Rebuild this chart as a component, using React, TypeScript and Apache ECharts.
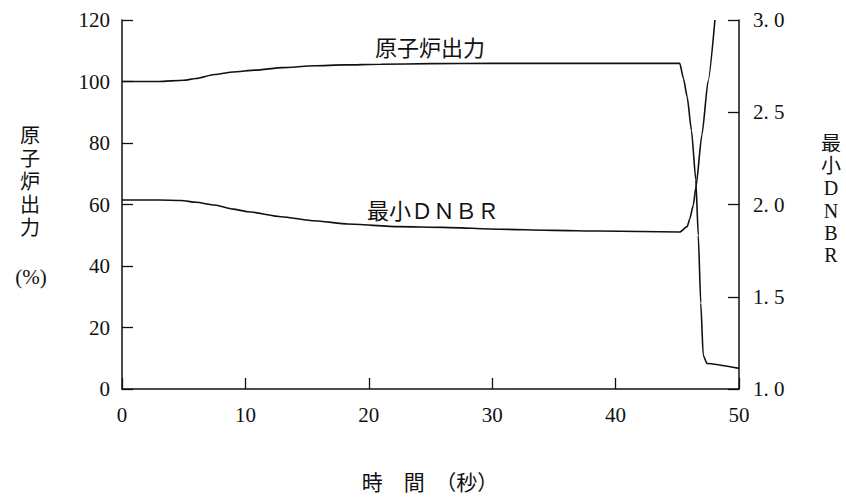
import React, { useEffect, useRef } from "react";
import * as echarts from "echarts";

const powerT = [0, 3, 5, 6, 7.5, 9, 10.8, 13, 15.6, 18, 21, 25, 30, 35, 40, 45.2, 45.5, 45.8, 46.15, 46.5, 46.7, 46.9, 47.1, 47.4, 50];
const powerV = [100, 100, 100.4, 101, 102.3, 103.1, 103.7, 104.5, 105.1, 105.4, 105.6, 105.8, 105.9, 105.9, 105.9, 105.9, 101, 95, 84, 68, 50, 28, 11, 8.3, 6.7];

const dnbrT = [0, 3, 4.8, 6, 7.5, 9, 10.2, 12.9, 15.6, 18.3, 22.4, 26, 30.6, 35, 38.7, 45.2, 45.8, 46.0, 46.3, 46.5, 47, 47.5, 48.05];
const dnbrV = [2.024, 2.024, 2.022, 2.012, 1.997, 1.975, 1.961, 1.934, 1.912, 1.894, 1.88, 1.876, 1.866, 1.86, 1.856, 1.851, 1.88, 1.92, 1.997, 2.09, 2.38, 2.67, 3.0];

const leftName = ["原", "子", "炉", "出", "力"];
const rightName = ["最", "小", "D", "N", "B", "R"];
const xTitle = "時　間　（秒）";
const powerLabel = "原子炉出力";
const dnbrLabel = "最小ＤＮＢＲ";

const SERIF = "'Liberation Serif', 'Noto Sans CJK JP', serif";
const CJK = "'Noto Sans CJK JP', 'Liberation Serif', sans-serif";

export default function App() {
  const ref = useRef<HTMLDivElement>(null);
  useEffect(() => {
    document.body.style.margin = "0";
    if (!ref.current) return;
    const chart = echarts.init(ref.current, undefined, { renderer: "svg" });
    const axisLine = { show: true, lineStyle: { color: "#111", width: 1.5 } };
    const axisTick = { show: true, inside: true, length: 11, lineStyle: { color: "#111", width: 1.3 } };
    const axisLabel = { color: "#111", fontSize: 21, fontFamily: SERIF };
    const vertical = (chars: string[], x: number, y0: number, step: number, fontSize: number, family: string) =>
      chars.map((c, i) => ({
        type: "text",
        x,
        y: y0 + i * step,
        style: {
          text: c,
          fontSize,
          lineHeight: fontSize,
          fontFamily: family,
          fill: "#111",
          align: "center",
          verticalAlign: "middle",
        },
      }));
    chart.setOption({
      animation: false,
      backgroundColor: "#fff",
      grid: { left: 122, right: 107, top: 20, bottom: 108 },
      xAxis: {
        type: "value",
        min: 0,
        max: 50,
        interval: 10,
        axisLine,
        axisTick,
        splitLine: { show: false },
        axisLabel: { ...axisLabel, margin: 15 },
      },
      yAxis: [
        {
          type: "value",
          min: 0,
          max: 120,
          interval: 20,
          position: "left",
          axisLine,
          axisTick,
          splitLine: { show: false },
          axisLabel: { ...axisLabel, margin: 12 },
        },
        {
          type: "value",
          min: 1,
          max: 3,
          interval: 0.5,
          position: "right",
          axisLine,
          axisTick,
          splitLine: { show: false },
          axisLabel: {
            ...axisLabel,
            margin: 14,
            formatter: (v: number) => v.toFixed(1).replace(".", ". "),
          },
        },
      ],
      series: [
        {
          type: "line",
          name: "原子炉出力",
          yAxisIndex: 0,
          data: powerT.map((t, i) => [t, powerV[i]]),
          showSymbol: false,
          smooth: 0.2,
          smoothMonotone: "x",
          lineStyle: { color: "#111", width: 1.6 },
        },
        {
          type: "line",
          name: "最小DNBR",
          yAxisIndex: 1,
          data: dnbrT.map((t, i) => [t, dnbrV[i]]),
          showSymbol: false,
          smooth: 0.2,
          smoothMonotone: "x",
          lineStyle: { color: "#111", width: 1.6 },
        },
      ],
      graphic: [
        ...vertical(leftName, 30, 136, 23, 20, SERIF),
        {
          type: "text",
          x: 31,
          y: 277,
          style: { text: "(%)", fontSize: 21, fontFamily: SERIF, fill: "#111", align: "center", verticalAlign: "middle" },
        },
        ...vertical(rightName, 831, 144, 22.2, 20, SERIF),
        {
          type: "text",
          x: 430,
          y: 46,
          style: { text: powerLabel, fontSize: 22, fontFamily: CJK, fill: "#111", align: "center", verticalAlign: "middle" },
        },
        {
          type: "text",
          x: 433,
          y: 209,
          style: { text: dnbrLabel, fontSize: 22, fontFamily: CJK, fill: "#111", align: "center", verticalAlign: "middle" },
        },
        {
          type: "text",
          x: 430,
          y: 481,
          style: { text: xTitle, fontSize: 21, fontFamily: CJK, fill: "#111", align: "center", verticalAlign: "middle" },
        },
      ],
    });
    return () => chart.dispose();
  }, []);
  return <div ref={ref} style={{ width: 846, height: 497 }} />;
}
